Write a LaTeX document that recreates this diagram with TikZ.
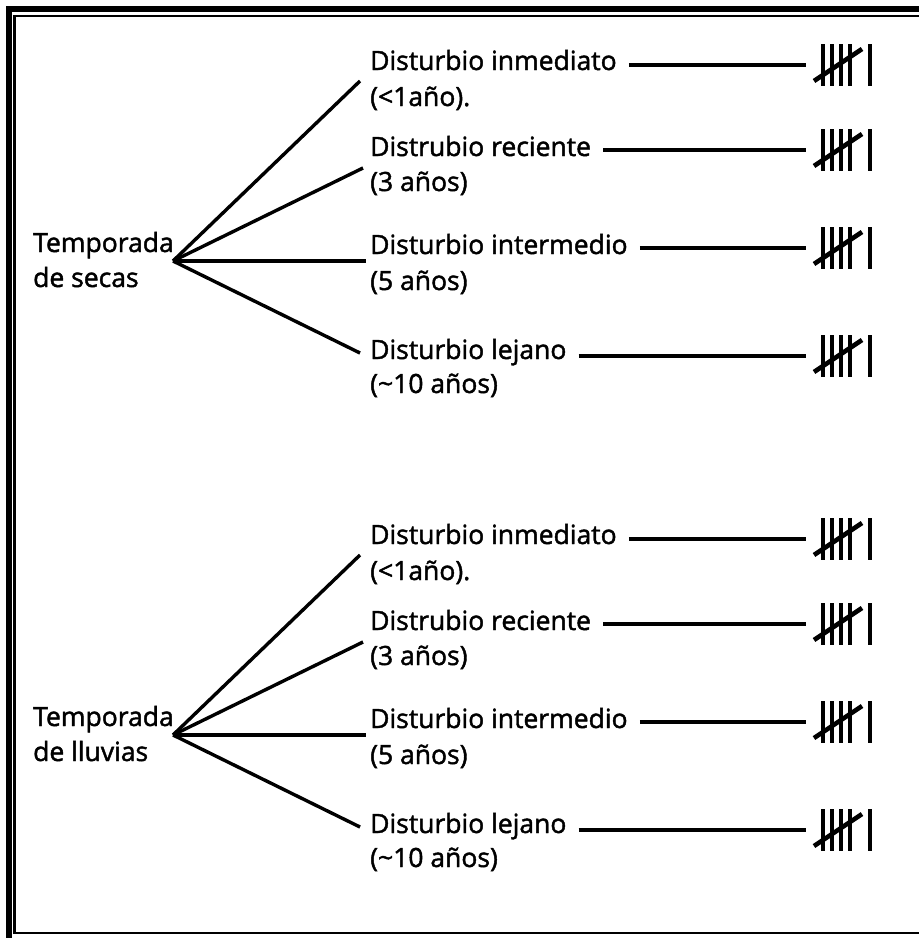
\documentclass[tikz,border=0pt]{standalone}
\usepackage{fontspec}
\newfontfamily\lblfont{Open Sans}[FakeBold=1.6]
\usetikzlibrary{calc}
\begin{document}
\begin{tikzpicture}[x=1pt,y=-1pt,
  lbl/.style={anchor=base west, inner sep=0pt, font=\lblfont\fontsize{26.5}{30}\selectfont},
  conn/.style={line width=3.4pt},
  tallymark/.style={minimum width=80pt, minimum height=48pt, inner sep=0pt,
    path picture={
      \foreach \dx in {-23,-14,-5,4,24}
        \draw[line width=4.6pt] ([shift={(\dx,-21)}]path picture bounding box.center) -- ([shift={(\dx,21)}]path picture bounding box.center);
      \draw[line width=4.6pt] ([shift={(-32,16)}]path picture bounding box.center) -- ([shift={(16,-16)}]path picture bounding box.center);
    }},
]
\useasboundingbox (0,0) rectangle (919,938);
\fill[white] (0,0) rectangle (919,938);
\clip (0,0) rectangle (919,938);
% frame
\draw[line width=6pt] (9,9) rectangle (931,941);
\draw[line width=2.6pt] (14.5,16) rectangle (925,933);

\foreach \o/\s/\sub in {0/u/de secas,474/l/de lluvias}{
  \node[lbl] (T1\s) at (33,252+\o) {Temporada};
  \node[lbl] (T2\s) at (33,287+\o) {\sub};
  \coordinate (hub\s) at (173,261+\o);
  % labels
  \node[lbl] (A1\s) at (370,70+\o) {Disturbio inmediato};
  \node[lbl] (A2\s) at (370,106+\o) {(<1año).};
  \node[lbl] (B1\s) at (370,156+\o) {Distrubio reciente};
  \node[lbl] (B2\s) at (370,191+\o) {(3 años)};
  \node[lbl] (C1\s) at (370,254+\o) {Disturbio intermedio};
  \node[lbl] (C2\s) at (370,290+\o) {(5 años)};
  \node[lbl] (D1\s) at (370,359+\o) {Disturbio lejano};
  \node[lbl] (D2\s) at (370,393+\o) {(\textasciitilde10 años)};
  % connector ends
  \coordinate (cA\s) at (360,81+\o);
  \coordinate (cB\s) at (363,168+\o);
  \coordinate (cC\s) at (366,261+\o);
  \coordinate (cD\s) at (360,353+\o);
  % tallies
  \node[tallymark] (tA\s) at (846,65+\o) {};
  \node[tallymark] (tB\s) at (846,150+\o) {};
  \node[tallymark] (tC\s) at (846,248+\o) {};
  \node[tallymark] (tD\s) at (846,356+\o) {};
  % connectors
  \draw[conn] (hub\s) -- (cA\s);
  \draw[conn] (hub\s) -- (cB\s);
  \draw[conn] (hub\s) -- (cC\s);
  \draw[conn] (hub\s) -- (cD\s);
  \draw[conn] ($(tA\s.west -| A1\s.east)+(12,0)$) -- (tA\s.west);
  \draw[conn] ($(tB\s.west -| B1\s.east)+(12,0)$) -- (tB\s.west);
  \draw[conn] ($(tC\s.west -| C1\s.east)+(12,0)$) -- (tC\s.west);
  \draw[conn] ($(tD\s.west -| D1\s.east)+(12,0)$) -- (tD\s.west);
}
\end{tikzpicture}
\end{document}
